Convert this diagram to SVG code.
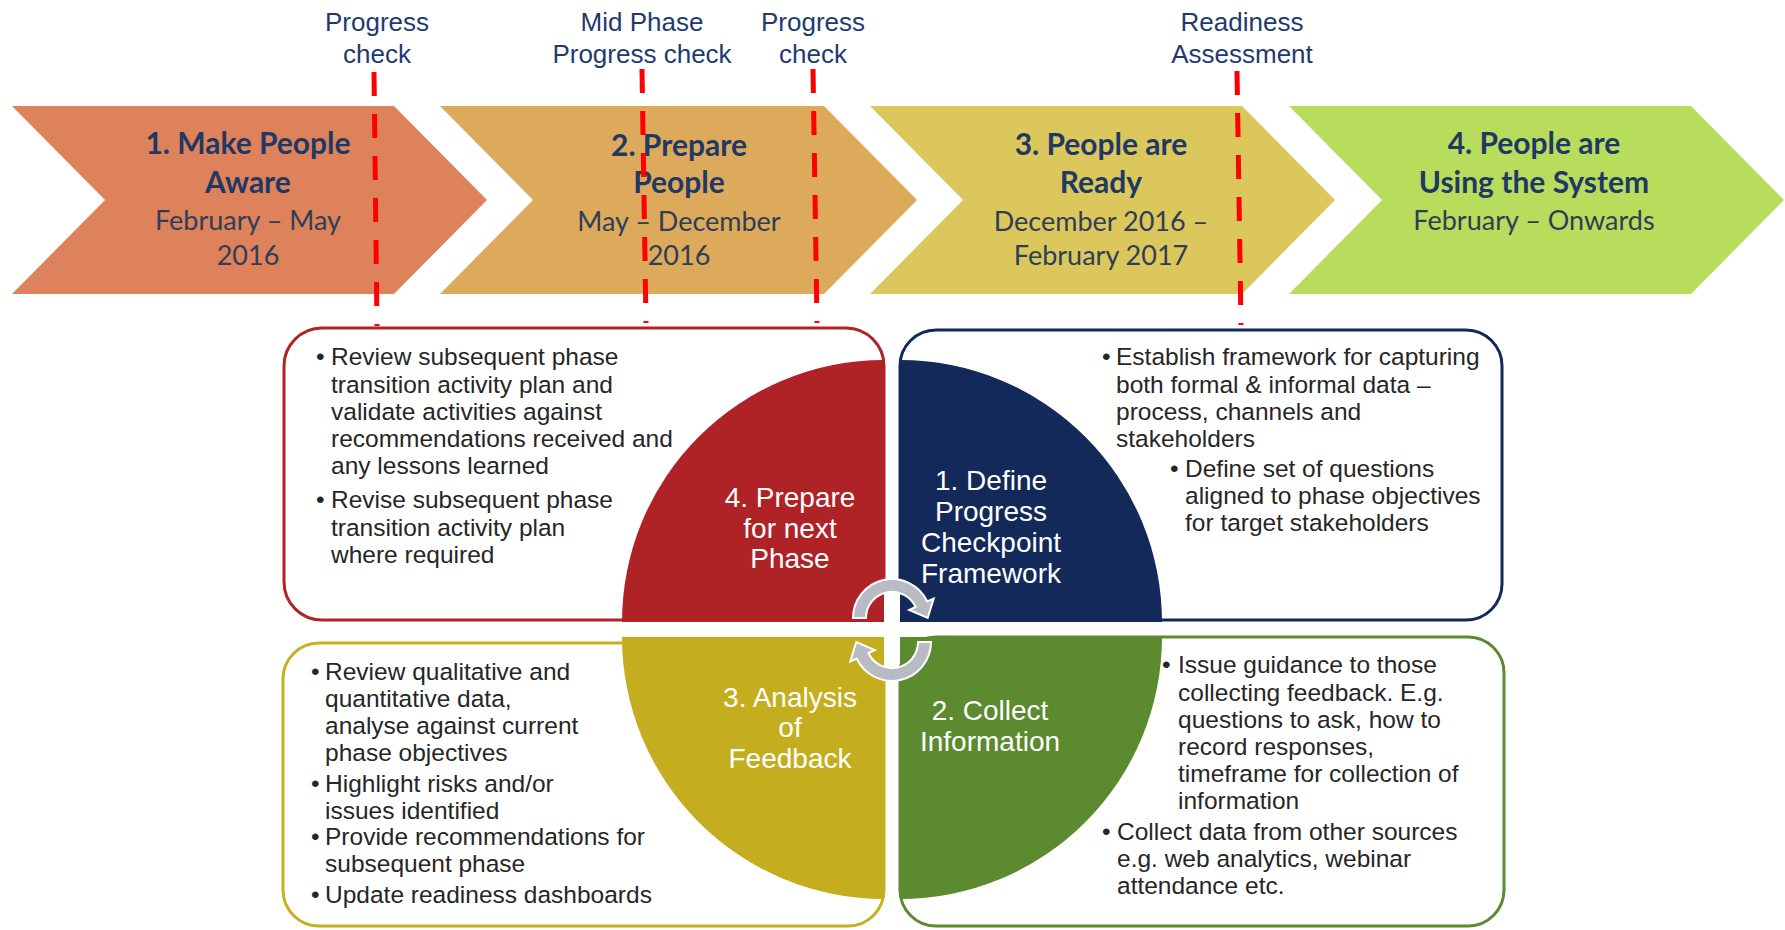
<svg xmlns="http://www.w3.org/2000/svg" width="1785" height="930" viewBox="0 0 1785 930">
<style>
.chh{font-family:Lato,"Open Sans",sans-serif;font-weight:bold;font-size:30px;fill:#1F3864;text-anchor:middle}
.chd{font-family:Lato,"Open Sans",sans-serif;font-size:27px;fill:#2F3E57;text-anchor:middle}
.top{font-family:"Liberation Sans",Arial,sans-serif;font-size:26px;fill:#1F3A70;text-anchor:middle}
.dash{stroke:#FF0000;stroke-width:5;stroke-dasharray:24 18;fill:none}
.body{font-family:"Liberation Sans",Arial,sans-serif;font-size:24.5px;fill:#262626}
.ql{font-family:"Liberation Sans",Arial,sans-serif;font-size:28px;fill:#FFFFFF;text-anchor:middle}
.box{fill:#FFFFFF;stroke-width:3}
.arr{fill:#B8BCC2;stroke:#FFFFFF;stroke-width:2}
</style>
<rect width="1785" height="930" fill="#FFFFFF"/>

<g id="phase1">
<path d="M12 106 L394 106 L487 200 L394 294 L12 294 L105 200 Z" fill="#DD825B"/>
<text class="chh" x="248" y="154">1. Make People</text>
<text class="chh" x="248" y="193">Aware</text>
<text class="chd" x="248" y="230">February – May</text>
<text class="chd" x="248" y="265">2016</text>
</g>
<g id="phase2">
<path d="M440 106 L824 106 L917 200 L824 294 L440 294 L533 200 Z" fill="#DDA95B"/>
<text class="chh" x="679" y="156">2. Prepare</text>
<text class="chh" x="679" y="193">People</text>
<text class="chd" x="679" y="231">May – December</text>
<text class="chd" x="679" y="265">2016</text>
</g>
<g id="phase3">
<path d="M870 106 L1242 106 L1335 200 L1242 294 L870 294 L963 200 Z" fill="#DCC75C"/>
<text class="chh" x="1101" y="155">3. People are</text>
<text class="chh" x="1101" y="193">Ready</text>
<text class="chd" x="1101" y="231">December 2016 –</text>
<text class="chd" x="1101" y="265">February 2017</text>
</g>
<g id="phase4">
<path d="M1289 106 L1691 106 L1784 200 L1691 294 L1289 294 L1382 200 Z" fill="#B8DC5C"/>
<text class="chh" x="1534" y="154">4. People are</text>
<text class="chh" x="1534" y="193">Using the System</text>
<text class="chd" x="1534" y="230">February – Onwards</text>
</g>

<g id="checkpoints">
<text class="top" x="377" y="31">Progress</text>
<text class="top" x="377" y="63">check</text>
<text class="top" x="642" y="31">Mid Phase</text>
<text class="top" x="642" y="63">Progress check</text>
<text class="top" x="813" y="31">Progress</text>
<text class="top" x="813" y="63">check</text>
<text class="top" x="1242" y="31">Readiness</text>
<text class="top" x="1242" y="63">Assessment</text>
<line class="dash" x1="374" y1="72" x2="377" y2="326"/>
<line class="dash" x1="642" y1="69" x2="646" y2="323"/>
<line class="dash" x1="813" y1="69" x2="817" y2="323"/>
<line class="dash" x1="1237" y1="71" x2="1241" y2="325"/>
</g>

<g id="box4">
<rect class="box" x="284" y="328" width="600" height="292" rx="38" stroke="#B02326"/>
<text class="body"><tspan x="316" y="365">•</tspan><tspan x="331" y="365">Review subsequent phase</tspan><tspan x="331" y="392.5">transition activity plan and</tspan><tspan x="331" y="419.5">validate activities against</tspan><tspan x="331" y="446.5">recommendations received and</tspan><tspan x="331" y="473.5">any lessons learned</tspan></text>
<text class="body"><tspan x="316" y="508">•</tspan><tspan x="331" y="508">Revise subsequent phase</tspan><tspan x="331" y="536">transition activity plan</tspan><tspan x="331" y="563">where required</tspan></text>
</g>
<g id="box1">
<rect class="box" x="900" y="330" width="602" height="290" rx="36" stroke="#13295A"/>
<text class="body"><tspan x="1102" y="365">•</tspan><tspan x="1116" y="365">Establish framework for capturing</tspan><tspan x="1116" y="392.5">both formal &amp; informal data –</tspan><tspan x="1116" y="419.5">process, channels and</tspan><tspan x="1116" y="446.5">stakeholders</tspan></text>
<text class="body"><tspan x="1170" y="476.5">•</tspan><tspan x="1185" y="476.5">Define set of questions</tspan><tspan x="1185" y="504">aligned to phase objectives</tspan><tspan x="1185" y="531">for target stakeholders</tspan></text>
</g>
<g id="box3">
<rect class="box" x="283" y="643" width="601" height="283" rx="36" stroke="#C5B11F"/>
<text class="body"><tspan x="311" y="680">•</tspan><tspan x="325" y="680">Review qualitative and</tspan><tspan x="325" y="707">quantitative data,</tspan><tspan x="325" y="734">analyse against current</tspan><tspan x="325" y="761">phase objectives</tspan></text>
<text class="body"><tspan x="311" y="791.5">•</tspan><tspan x="325" y="791.5">Highlight risks and/or</tspan><tspan x="325" y="819">issues identified</tspan></text>
<text class="body"><tspan x="311" y="845">•</tspan><tspan x="325" y="845">Provide recommendations for</tspan><tspan x="325" y="872">subsequent phase</tspan></text>
<text class="body"><tspan x="311" y="903">•</tspan><tspan x="325" y="903">Update readiness dashboards</tspan></text>
</g>
<g id="box2">
<rect class="box" x="900" y="637" width="604" height="289" rx="36" stroke="#5C8A2F"/>
<text class="body"><tspan x="1162" y="673">•</tspan><tspan x="1178" y="673">Issue guidance to those</tspan><tspan x="1178" y="700.5">collecting feedback. E.g.</tspan><tspan x="1178" y="728">questions to ask, how to</tspan><tspan x="1178" y="755">record responses,</tspan><tspan x="1178" y="782">timeframe for collection of</tspan><tspan x="1178" y="808.5">information</tspan></text>
<text class="body"><tspan x="1102" y="840">•</tspan><tspan x="1117" y="840">Collect data from other sources</tspan><tspan x="1117" y="867">e.g. web analytics, webinar</tspan><tspan x="1117" y="894">attendance etc.</tspan></text>
</g>

<g id="q4">
<path d="M884 622 L622 622 A262 262 0 0 1 884 360 Z" fill="#AF2326"/>
<text class="ql" x="790" y="507">4. Prepare</text>
<text class="ql" x="790" y="538">for next</text>
<text class="ql" x="790" y="568">Phase</text>
</g>
<g id="q1">
<path d="M900 622 L900 360 A262 262 0 0 1 1162 622 Z" fill="#13295A"/>
<text class="ql" x="991" y="490">1. Define</text>
<text class="ql" x="991" y="521">Progress</text>
<text class="ql" x="991" y="552">Checkpoint</text>
<text class="ql" x="991" y="583">Framework</text>
</g>
<g id="q3">
<path d="M884 637 L884 899 A262 262 0 0 1 622 637 Z" fill="#C4AE1F"/>
<text class="ql" x="790" y="707">3. Analysis</text>
<text class="ql" x="790" y="737">of</text>
<text class="ql" x="790" y="768">Feedback</text>
</g>
<g id="q2">
<path d="M900 637 L1162 637 A262 262 0 0 1 900 899 Z" fill="#5B8A2F"/>
<text class="ql" x="990" y="720">2. Collect</text>
<text class="ql" x="990" y="751">Information</text>
</g>

<g id="connectors">
<path id="cycleTop" class="arr" d="M853 618 A39 39 0 0 1 927.3 601.5 L933.7 598.5 L927.7 618 L909.2 610 L915.6 607 A26 26 0 0 0 866 618 Z"/>
<path id="cycleBottom" class="arr" transform="rotate(180 892 630)" d="M853 618 A39 39 0 0 1 927.3 601.5 L933.7 598.5 L927.7 618 L909.2 610 L915.6 607 A26 26 0 0 0 866 618 Z"/>
</g>
</svg>
